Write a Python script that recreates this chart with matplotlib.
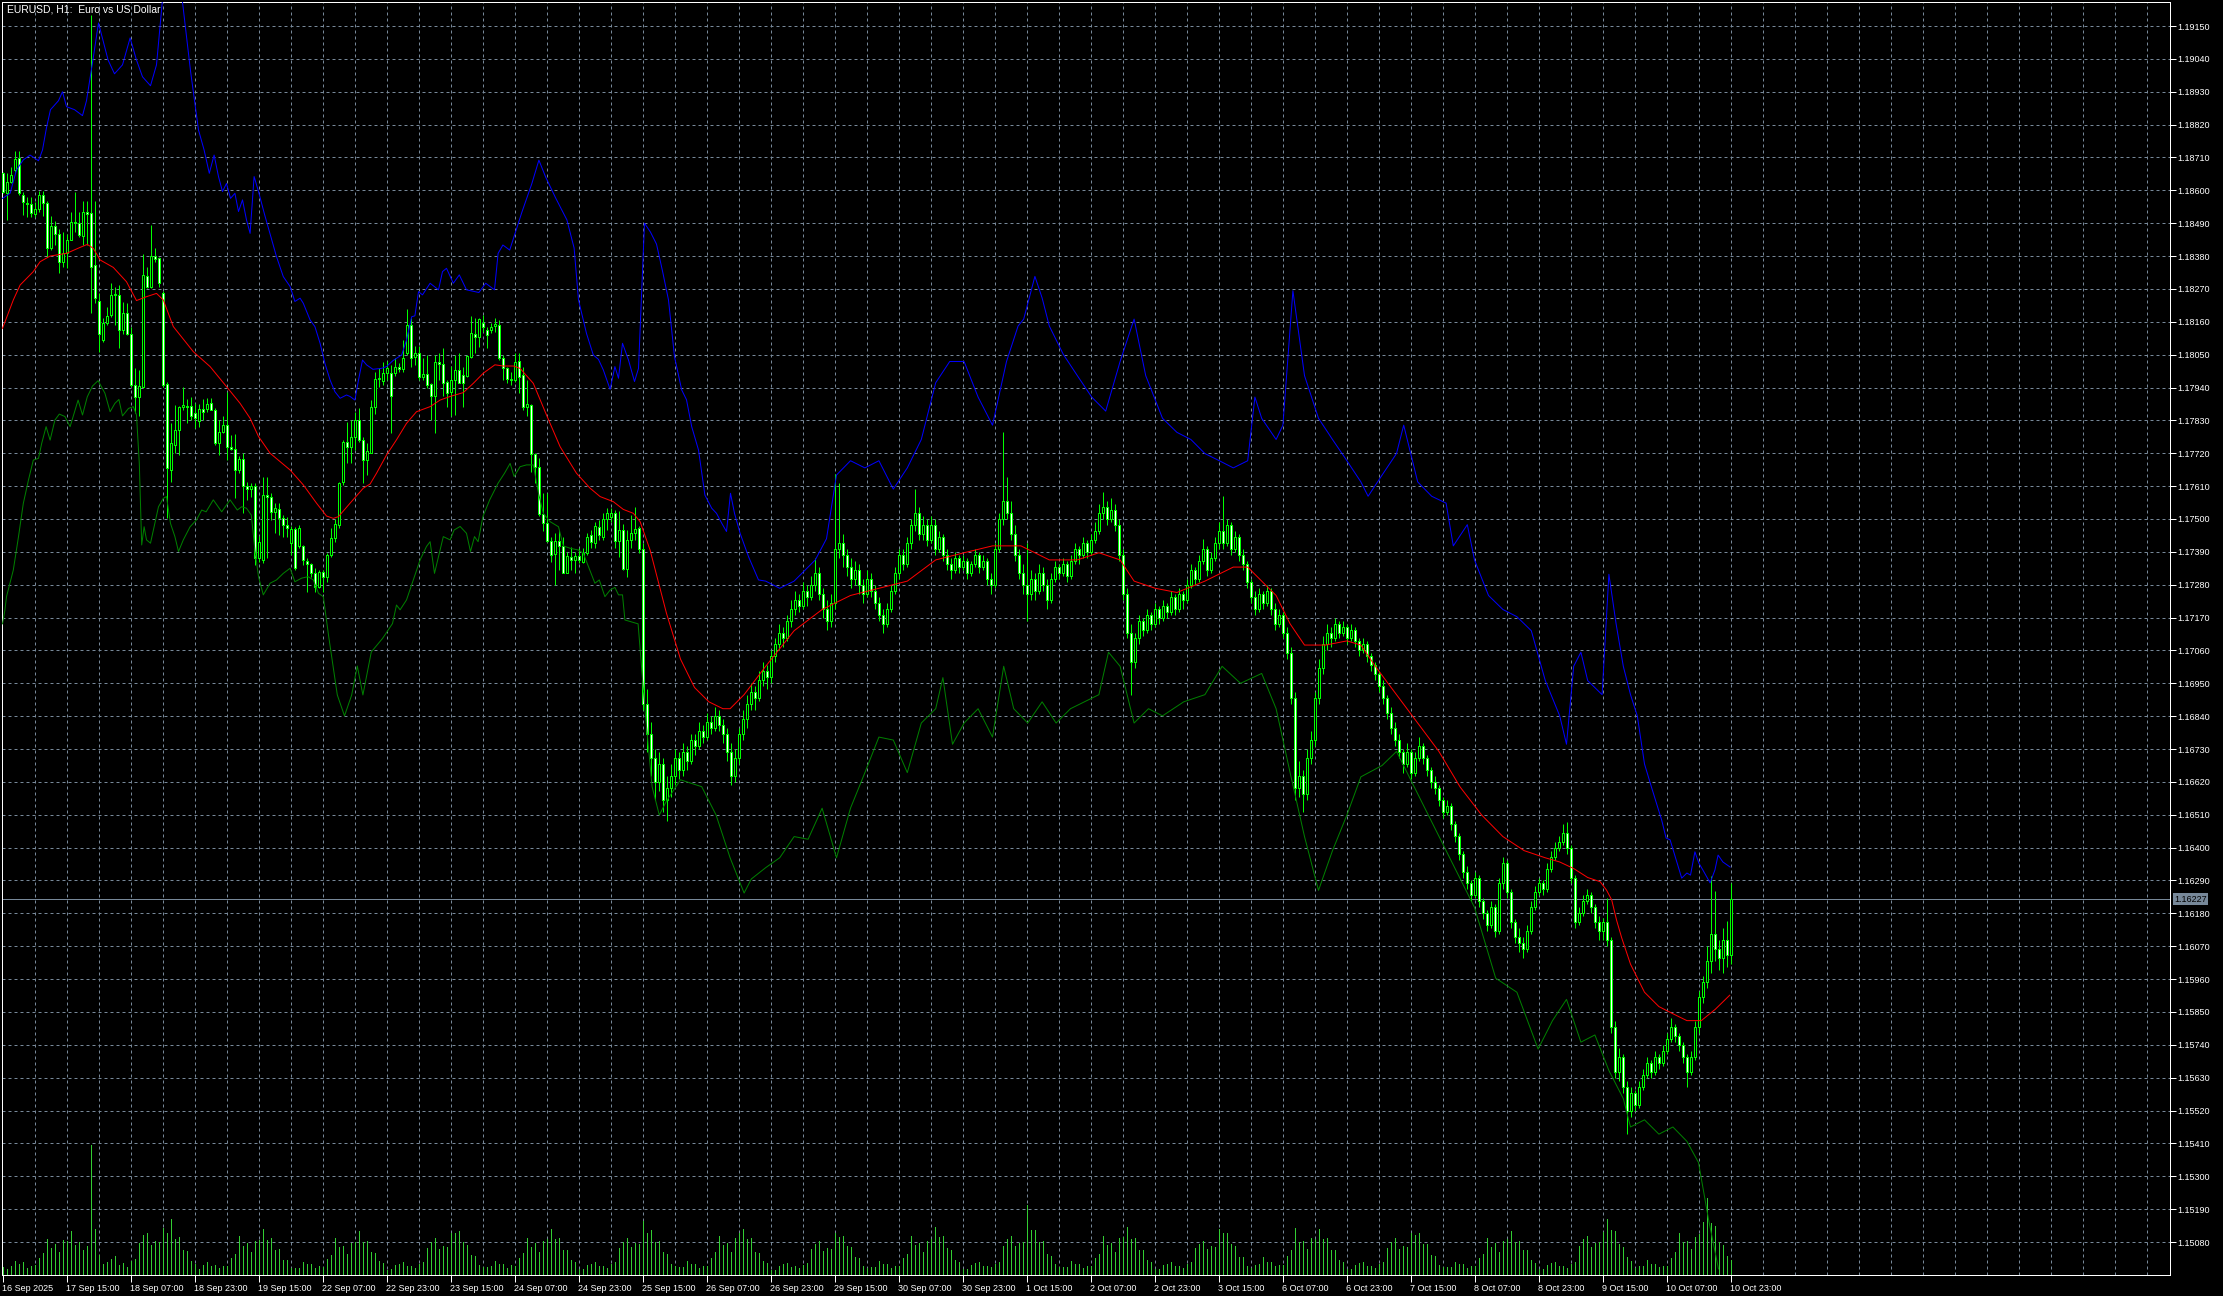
import matplotlib
matplotlib.use("Agg")
import matplotlib.pyplot as plt
from matplotlib.patches import Rectangle
from matplotlib.collections import PatchCollection, LineCollection

# ---------------- data (EURUSD H1, bar 0 = 16 Sep 2025 23:00) ----------------
opens = [1.18657,1.18590,1.18629,1.18668,1.18707,1.18584,1.18559,1.18554,1.18521,1.18537,
 1.18583,1.18557,1.18406,1.18482,1.18453,1.18359,1.18391,1.18434,1.18495,1.18492,
 1.18447,1.18526,1.18523,1.18350,1.18231,1.18099,1.18155,1.18183,1.18250,1.18250,
 1.18133,1.18191,1.18119,1.17949,1.17909,1.17943,1.18313,1.18278,1.18380,1.18372,
 1.18255,1.17952,1.17664,1.17748,1.17798,1.17874,1.17878,1.17878,1.17854,1.17829,
 1.17867,1.17867,1.17887,1.17865,1.17753,1.17792,1.17815,1.17740,1.17733,1.17664,
 1.17700,1.17610,1.17599,1.17610,1.17368,
 1.17363,1.17581,1.17573,1.17525,1.17533,1.17502,1.17480,1.17419,1.17466,1.17408,
 1.17410,1.17361,1.17350,1.17320,1.17274,1.17324,1.17307,1.17380,1.17435,1.17480,
 1.17625,1.17759,1.17742,1.17776,1.17832,1.17765,1.17698,1.17722,1.17876,1.17968,
 1.17963,1.17988,1.17988,1.17988,1.18010,1.18001,1.18055,1.18149,1.18041,1.18055,
 1.17974,1.17985,1.17952,1.17910,1.18027,1.18019,1.17960,1.17926,1.17965,1.17999,
 1.17982,1.17979,1.18043,1.18118,1.18110,1.18155,1.18131,1.18133,1.18146,1.18149,
 1.18038,1.18004,
 1.17965,1.17965,1.18030,1.17982,1.17874,1.17882,1.17718,1.17675,1.17517,1.17488,
 1.17427,1.17383,1.17427,1.17410,1.17320,1.17374,1.17363,1.17376,1.17357,1.17385,
 1.17446,1.17421,1.17474,1.17441,1.17499,1.17508,1.17521,1.17427,1.17463,1.17332,
 1.17430,1.17452,1.17469,
 1.17398,1.16880,1.16780,1.16700,1.16620,1.16680,1.16560,1.16600,1.16640,1.16700,
 1.16660,1.16720,1.16690,1.16760,1.16740,1.16790,1.16770,1.16820,1.16800,1.16840,
 1.16810,1.16780,1.16720,1.16640,1.16700,1.16780,1.16830,1.16880,1.16920,1.16900,
 1.16960,1.16990,1.16970,1.17040,1.17080,1.17120,1.17100,1.17160,1.17200,1.17230,
 1.17210,1.17260,1.17240,1.17280,1.17320,1.17250,1.17200,1.17160,1.17220,1.17400,
 1.17420,1.17380,1.17340,1.17300,1.17330,1.17280,1.17250,1.17300,1.17260,1.17220,
 1.17180,1.17150,1.17200,1.17260,1.17320,1.17380,1.17350,1.17420,1.17480,1.17520,
 1.17450,1.17480,1.17430,1.17480,1.17400,1.17440,1.17380,1.17350,1.17330,1.17370,
 1.17340,1.17360,1.17320,1.17350,1.17380,1.17340,1.17360,1.17300,1.17280,1.17400,
 1.17500,1.17560,1.17520,1.17450,1.17380,1.17320,1.17280,1.17250,1.17300,1.17260,
 1.17320,1.17280,1.17230,1.17300,1.17340,1.17320,1.17350,1.17310,1.17360,1.17400,
 1.17380,1.17420,1.17390,1.17430,1.17460,1.17520,1.17540,1.17500,1.17530,1.17480,
 1.17380,1.17250,1.17120,1.17020,1.17100,1.17160,1.17130,1.17180,1.17150,1.17200,
 1.17170,1.17210,1.17190,1.17240,1.17200,1.17250,1.17230,1.17280,1.17330,1.17300,
 1.17360,1.17400,1.17330,1.17370,1.17420,1.17460,1.17420,1.17480,1.17400,1.17440,
 1.17380,1.17350,1.17290,1.17240,1.17200,1.17250,1.17220,1.17260,1.17200,1.17150,
 1.17180,1.17120,1.17050,1.16900,1.16600,1.16640,1.16580,1.16700,1.16760,1.16900,
 1.17000,1.17080,1.17120,1.17100,1.17150,1.17120,1.17140,1.17100,1.17130,1.17090,
 1.17060,1.17080,1.17040,1.17010,1.16980,1.16940,1.16900,1.16850,1.16800,1.16760,
 1.16720,1.16680,1.16720,1.16650,1.16700,1.16740,1.16700,1.16660,1.16620,1.16600,
 1.16560,1.16520,1.16540,1.16480,1.16440,1.16380,1.16320,1.16280,1.16240,1.16300,
 1.16220,1.16180,1.16140,1.16200,1.16120,1.16280,1.16350,1.16250,1.16150,1.16100,
 1.16080,1.16060,1.16120,1.16200,1.16250,1.16280,1.16260,1.16330,1.16370,1.16400,
 1.16420,1.16450,1.16400,1.16300,1.16150,1.16180,1.16220,1.16240,1.16200,1.16150,
 1.16120,1.16152,1.16091,1.15800,1.15650,1.15700,1.15600,1.15520,1.15580,1.15540,
 1.15600,1.15640,1.15680,1.15650,1.15700,1.15680,1.15720,1.15760,1.15800,1.15770,
 1.15740,1.15700,1.15650,1.15700,1.15800,1.15900,1.15950,1.16020,1.16110,1.16060,
 1.16030,1.16090,1.16040]
highs = [1.18663,1.18657,1.18679,1.18733,1.18733,1.18596,1.18579,1.18579,1.18562,1.18599,
 1.18599,1.18565,1.18514,1.18499,1.18470,1.18462,1.18454,1.18529,1.18596,1.18529,
 1.18565,1.18565,1.19187,1.18565,1.18255,1.18172,1.18211,1.18289,1.18278,1.18283,
 1.18227,1.18222,1.18144,1.18004,1.17999,1.18387,1.18345,1.18484,1.18406,1.18376,
 1.18264,1.17960,1.17820,1.17882,1.17878,1.17941,1.17900,1.17909,1.17887,1.17885,
 1.17900,1.17904,1.17904,1.17870,1.17831,1.17843,1.17926,1.17781,1.17784,1.17711,
 1.17720,1.17625,1.17619,1.17619,1.17443,
 1.17642,1.17640,1.17586,1.17553,1.17553,1.17514,1.17508,1.17475,1.17472,1.17480,
 1.17413,1.17369,1.17354,1.17335,1.17329,1.17329,1.17385,1.17469,1.17499,1.17625,
 1.17765,1.17826,1.17832,1.17859,1.17871,1.17776,1.17753,1.17898,1.17993,1.18004,
 1.18027,1.18030,1.18016,1.18038,1.18023,1.18099,1.18202,1.18172,1.18079,1.18079,
 1.18038,1.18049,1.17954,1.18049,1.18057,1.18071,1.17965,1.18012,1.18049,1.18055,
 1.18010,1.18049,1.18180,1.18172,1.18172,1.18183,1.18142,1.18155,1.18172,1.18166,
 1.18049,1.18010,
 1.17993,1.18054,1.18054,1.18010,1.17965,1.17885,1.17720,1.17703,1.17586,1.17586,
 1.17439,1.17452,1.17463,1.17441,1.17391,1.17407,1.17391,1.17402,1.17402,1.17452,
 1.17463,1.17491,1.17497,1.17519,1.17536,1.17536,1.17530,1.17528,1.17483,1.17463,
 1.17513,1.17541,1.17477,
 1.17420,1.16930,1.16820,1.16730,1.16720,1.16700,1.16640,1.16680,1.16730,1.16720,
 1.16750,1.16740,1.16780,1.16780,1.16820,1.16810,1.16850,1.16840,1.16870,1.16860,
 1.16830,1.16800,1.16750,1.16730,1.16800,1.16860,1.16910,1.16950,1.16940,1.16990,
 1.17020,1.17010,1.17060,1.17100,1.17150,1.17140,1.17180,1.17230,1.17260,1.17250,
 1.17290,1.17280,1.17310,1.17370,1.17340,1.17270,1.17230,1.17250,1.17650,1.17620,
 1.17450,1.17400,1.17370,1.17360,1.17350,1.17300,1.17330,1.17320,1.17280,1.17240,
 1.17200,1.17220,1.17280,1.17340,1.17400,1.17400,1.17440,1.17500,1.17600,1.17540,
 1.17510,1.17500,1.17510,1.17500,1.17460,1.17450,1.17400,1.17370,1.17390,1.17380,
 1.17380,1.17370,1.17360,1.17400,1.17390,1.17380,1.17370,1.17320,1.17420,1.17520,
 1.17790,1.17640,1.17560,1.17480,1.17400,1.17350,1.17420,1.17330,1.17320,1.17350,
 1.17340,1.17300,1.17320,1.17360,1.17350,1.17370,1.17360,1.17380,1.17420,1.17410,
 1.17440,1.17430,1.17450,1.17490,1.17550,1.17590,1.17560,1.17570,1.17550,1.17500,
 1.17400,1.17270,1.17150,1.17120,1.17180,1.17170,1.17200,1.17190,1.17220,1.17210,
 1.17230,1.17220,1.17260,1.17250,1.17270,1.17260,1.17300,1.17350,1.17340,1.17380,
 1.17434,1.17410,1.17390,1.17440,1.17490,1.17576,1.17500,1.17490,1.17460,1.17450,
 1.17400,1.17360,1.17300,1.17260,1.17270,1.17260,1.17280,1.17270,1.17220,1.17200,
 1.17190,1.17140,1.17070,1.16920,1.16690,1.16660,1.16730,1.16790,1.16920,1.17030,
 1.17110,1.17150,1.17140,1.17170,1.17160,1.17160,1.17150,1.17150,1.17140,1.17100,
 1.17100,1.17090,1.17050,1.17020,1.16990,1.16960,1.16910,1.16870,1.16820,1.16780,
 1.16730,1.16750,1.16730,1.16720,1.16770,1.16750,1.16710,1.16670,1.16640,1.16610,
 1.16570,1.16560,1.16550,1.16490,1.16450,1.16390,1.16340,1.16290,1.16320,1.16310,
 1.16230,1.16190,1.16220,1.16210,1.16300,1.16370,1.16360,1.16260,1.16160,1.16130,
 1.16100,1.16140,1.16220,1.16270,1.16300,1.16290,1.16350,1.16390,1.16420,1.16440,
 1.16480,1.16485,1.16410,1.16310,1.16200,1.16240,1.16260,1.16250,1.16210,1.16170,
 1.16164,1.16230,1.16100,1.15820,1.15730,1.15710,1.15620,1.15600,1.15590,1.15620,
 1.15660,1.15700,1.15690,1.15720,1.15710,1.15740,1.15780,1.15830,1.15810,1.15780,
 1.15750,1.15710,1.15720,1.15820,1.15920,1.15970,1.16070,1.16305,1.16255,1.16090,
 1.16130,1.16155,1.16282]
lows = [1.18590,1.18501,1.18623,1.18663,1.18584,1.18517,1.18510,1.18510,1.18510,1.18529,
 1.18514,1.18378,1.18400,1.18417,1.18324,1.18345,1.18339,1.18434,1.18462,1.18445,
 1.18417,1.18417,1.18188,1.18222,1.18060,1.18093,1.18149,1.18177,1.18149,1.18071,
 1.18119,1.18116,1.17943,1.17854,1.17843,1.17937,1.18272,1.18272,1.18361,1.18278,
 1.17943,1.17502,1.17625,1.17720,1.17714,1.17865,1.17820,1.17831,1.17803,1.17809,
 1.17831,1.17859,1.17865,1.17748,1.17714,1.17787,1.17697,1.17731,1.17569,1.17653,
 1.17519,1.17564,1.17575,1.17346,1.17357,
 1.17352,1.17369,1.17497,1.17452,1.17447,1.17441,1.17441,1.17380,1.17329,1.17402,
 1.17346,1.17257,1.17307,1.17257,1.17268,1.17257,1.17290,1.17374,1.17424,1.17469,
 1.17614,1.17686,1.17689,1.17731,1.17759,1.17622,1.17647,1.17720,1.17852,1.17943,
 1.17949,1.17965,1.17787,1.17977,1.17993,1.17993,1.18049,1.18010,1.18016,1.17965,
 1.17965,1.17937,1.17832,1.17789,1.17965,1.17910,1.17876,1.17843,1.17848,1.17954,
 1.17876,1.17974,1.18038,1.18055,1.18077,1.18127,1.18071,1.18124,1.18127,1.18032,
 1.17965,1.17956,
 1.17948,1.17960,1.17921,1.17865,1.17843,1.17658,1.17619,1.17510,1.17461,1.17424,
 1.17357,1.17279,1.17329,1.17318,1.17318,1.17329,1.17318,1.17352,1.17352,1.17380,
 1.17402,1.17402,1.17430,1.17430,1.17463,1.17491,1.17402,1.17374,1.17329,1.17307,
 1.17402,1.17430,1.17385,
 1.16860,1.16720,1.16640,1.16560,1.16590,1.16520,1.16490,1.16570,1.16610,1.16630,
 1.16640,1.16660,1.16680,1.16710,1.16730,1.16750,1.16760,1.16780,1.16790,1.16790,
 1.16750,1.16690,1.16610,1.16620,1.16680,1.16760,1.16800,1.16860,1.16860,1.16890,
 1.16940,1.16930,1.16950,1.17020,1.17060,1.17070,1.17090,1.17140,1.17180,1.17190,
 1.17200,1.17210,1.17230,1.17260,1.17230,1.17170,1.17130,1.17140,1.17200,1.17370,
 1.17340,1.17310,1.17270,1.17280,1.17250,1.17220,1.17240,1.17240,1.17200,1.17160,
 1.17120,1.17140,1.17190,1.17250,1.17300,1.17330,1.17340,1.17400,1.17460,1.17430,
 1.17430,1.17410,1.17420,1.17380,1.17390,1.17360,1.17330,1.17300,1.17320,1.17320,
 1.17330,1.17300,1.17310,1.17340,1.17320,1.17330,1.17280,1.17250,1.17270,1.17390,
 1.17480,1.17500,1.17430,1.17360,1.17300,1.17250,1.17160,1.17230,1.17230,1.17250,
 1.17260,1.17200,1.17220,1.17290,1.17300,1.17310,1.17290,1.17300,1.17350,1.17350,
 1.17370,1.17370,1.17380,1.17420,1.17450,1.17500,1.17480,1.17490,1.17460,1.17360,
 1.17230,1.17100,1.16910,1.17000,1.17080,1.17110,1.17120,1.17130,1.17140,1.17150,
 1.17160,1.17170,1.17180,1.17180,1.17190,1.17200,1.17220,1.17270,1.17280,1.17290,
 1.17350,1.17310,1.17320,1.17360,1.17400,1.17400,1.17410,1.17380,1.17390,1.17360,
 1.17330,1.17270,1.17220,1.17180,1.17190,1.17200,1.17210,1.17180,1.17130,1.17140,
 1.17100,1.17030,1.16880,1.16560,1.16570,1.16520,1.16560,1.16680,1.16740,1.16880,
 1.16980,1.17060,1.17070,1.17090,1.17100,1.17110,1.17080,1.17090,1.17070,1.17040,
 1.17050,1.17020,1.16990,1.16960,1.16920,1.16880,1.16830,1.16780,1.16740,1.16700,
 1.16650,1.16670,1.16630,1.16640,1.16690,1.16680,1.16640,1.16600,1.16580,1.16540,
 1.16500,1.16510,1.16460,1.16420,1.16360,1.16300,1.16260,1.16220,1.16230,1.16200,
 1.16160,1.16120,1.16130,1.16100,1.16110,1.16260,1.16230,1.16130,1.16080,1.16050,
 1.16030,1.16050,1.16110,1.16190,1.16240,1.16240,1.16250,1.16320,1.16360,1.16390,
 1.16410,1.16380,1.16280,1.16130,1.16140,1.16170,1.16210,1.16180,1.16130,1.16090,
 1.16090,1.16070,1.15780,1.15630,1.15620,1.15580,1.15441,1.15500,1.15520,1.15530,
 1.15590,1.15630,1.15630,1.15640,1.15660,1.15670,1.15710,1.15750,1.15750,1.15720,
 1.15680,1.15600,1.15640,1.15690,1.15780,1.15880,1.15930,1.15980,1.16020,1.15990,
 1.15980,1.16000,1.16010]
closes = [1.18596,1.18629,1.18651,1.18704,1.18590,1.18562,1.18554,1.18523,1.18537,1.18583,
 1.18559,1.18406,1.18482,1.18454,1.18359,1.18391,1.18434,1.18495,1.18492,1.18451,
 1.18526,1.18520,1.18345,1.18239,1.18119,1.18155,1.18179,1.18250,1.18253,1.18133,
 1.18191,1.18119,1.17949,1.17909,1.17945,1.18317,1.18278,1.18380,1.18369,1.18289,
 1.17949,1.17670,1.17753,1.17798,1.17874,1.17882,1.17874,1.17845,1.17837,1.17867,
 1.17859,1.17885,1.17865,1.17755,1.17792,1.17815,1.17742,1.17733,1.17664,1.17700,
 1.17610,1.17599,1.17610,1.17368,1.17424,
 1.17581,1.17575,1.17525,1.17536,1.17502,1.17480,1.17469,1.17466,1.17335,1.17469,
 1.17363,1.17350,1.17320,1.17274,1.17324,1.17307,1.17380,1.17435,1.17483,1.17622,
 1.17759,1.17742,1.17776,1.17832,1.17765,1.17698,1.17726,1.17876,1.17968,1.17971,
 1.17988,1.18004,1.17912,1.18010,1.18001,1.18038,1.18149,1.18038,1.18055,1.17974,
 1.17985,1.17949,1.17910,1.18027,1.18019,1.17956,1.17921,1.17965,1.17999,1.17956,
 1.17954,1.18046,1.18122,1.18110,1.18168,1.18142,1.18116,1.18142,1.18153,1.18038,
 1.18004,1.17968,
 1.17967,1.18027,1.17976,1.17874,1.17885,1.17718,1.17675,1.17517,1.17488,1.17427,
 1.17380,1.17427,1.17410,1.17320,1.17376,1.17363,1.17376,1.17363,1.17387,1.17441,
 1.17424,1.17477,1.17446,1.17499,1.17519,1.17521,1.17427,1.17463,1.17332,1.17430,
 1.17452,1.17465,1.17398,
 1.16880,1.16780,1.16700,1.16620,1.16680,1.16560,1.16600,1.16640,1.16700,1.16660,
 1.16720,1.16690,1.16760,1.16740,1.16790,1.16770,1.16820,1.16800,1.16840,1.16810,
 1.16780,1.16720,1.16640,1.16700,1.16780,1.16830,1.16880,1.16920,1.16900,1.16960,
 1.16990,1.16970,1.17040,1.17080,1.17120,1.17100,1.17160,1.17200,1.17230,1.17210,
 1.17260,1.17240,1.17280,1.17320,1.17250,1.17200,1.17160,1.17220,1.17400,1.17420,
 1.17380,1.17340,1.17300,1.17330,1.17280,1.17250,1.17300,1.17260,1.17220,1.17180,
 1.17150,1.17200,1.17260,1.17320,1.17380,1.17350,1.17420,1.17480,1.17520,1.17450,
 1.17480,1.17430,1.17480,1.17400,1.17440,1.17380,1.17350,1.17330,1.17370,1.17340,
 1.17360,1.17320,1.17350,1.17380,1.17340,1.17360,1.17300,1.17280,1.17400,1.17500,
 1.17560,1.17520,1.17450,1.17380,1.17320,1.17280,1.17250,1.17300,1.17260,1.17320,
 1.17280,1.17230,1.17300,1.17340,1.17320,1.17350,1.17310,1.17360,1.17400,1.17380,
 1.17420,1.17390,1.17430,1.17460,1.17520,1.17540,1.17500,1.17530,1.17480,1.17380,
 1.17250,1.17120,1.17020,1.17100,1.17160,1.17130,1.17180,1.17150,1.17200,1.17170,
 1.17210,1.17190,1.17240,1.17200,1.17250,1.17230,1.17280,1.17330,1.17300,1.17360,
 1.17400,1.17330,1.17370,1.17420,1.17460,1.17420,1.17480,1.17400,1.17440,1.17380,
 1.17350,1.17290,1.17240,1.17200,1.17250,1.17220,1.17260,1.17200,1.17150,1.17180,
 1.17120,1.17050,1.16900,1.16600,1.16640,1.16580,1.16700,1.16760,1.16900,1.17000,
 1.17080,1.17120,1.17100,1.17150,1.17120,1.17140,1.17100,1.17130,1.17090,1.17060,
 1.17080,1.17040,1.17010,1.16980,1.16940,1.16900,1.16850,1.16800,1.16760,1.16720,
 1.16680,1.16720,1.16650,1.16700,1.16740,1.16700,1.16660,1.16620,1.16600,1.16560,
 1.16520,1.16540,1.16480,1.16440,1.16380,1.16320,1.16280,1.16240,1.16300,1.16220,
 1.16180,1.16140,1.16200,1.16120,1.16280,1.16350,1.16250,1.16150,1.16100,1.16080,
 1.16060,1.16120,1.16200,1.16250,1.16280,1.16260,1.16330,1.16370,1.16400,1.16420,
 1.16450,1.16400,1.16300,1.16150,1.16180,1.16220,1.16240,1.16200,1.16150,1.16120,
 1.16152,1.16091,1.15800,1.15650,1.15700,1.15600,1.15520,1.15580,1.15540,1.15600,
 1.15640,1.15680,1.15650,1.15700,1.15680,1.15720,1.15760,1.15800,1.15770,1.15740,
 1.15700,1.15650,1.15700,1.15800,1.15900,1.15950,1.16020,1.16110,1.16060,1.16030,
 1.16090,1.16040,1.16227]

tick_volume = [800,
 600,900,1400,1100,1300,700,900,1000,1700,2200,3600,2700,3100,2300,3500,3400,4400,3000,3300,2500,2900,13000,4600,2000,
 1100,1300,1600,1900,1000,1200,800,1400,1600,3200,4000,4200,3000,3400,3300,4700,4200,5600,3600,3800,2500,2400,1400,1100,
 600,1000,1300,900,1000,700,900,900,1700,2100,3900,2900,3200,2300,3400,3500,4600,3500,3700,2500,2600,1500,1500,700,
 700,700,1300,1100,1100,700,900,800,1600,2000,3700,2800,2900,2100,3200,3300,4400,3300,3400,2300,2200,1400,1200,500,
 600,1000,1100,1300,900,900,700,1100,1300,2700,3300,3700,2600,2900,2800,4200,4200,4400,3300,3000,2000,1900,1000,800,
 800,900,1400,1100,1100,700,1000,900,1700,2200,3700,2800,3200,2300,3400,3600,4600,3600,3700,2500,2500,1500,1300,600,
 600,1000,1100,1300,900,900,700,1100,1300,2700,3300,3700,2800,3200,3100,5400,4200,4500,3300,3400,2300,2100,1100,900,
 800,800,1400,1100,1100,700,900,900,1700,2300,3900,3000,3200,2300,3700,4200,4600,3600,3700,2300,2200,1400,1200,500,
 500,900,1100,1200,800,900,700,1000,1200,2600,3100,3400,2400,2700,2600,4200,3800,3900,2900,2800,1800,1700,900,700,
 800,800,1400,1100,1100,700,900,900,1700,2100,3900,3000,3200,2300,3400,3600,4800,3800,3900,2700,2500,1500,1300,600,
 600,1000,1200,1300,900,900,800,1100,1300,2900,3600,3900,2900,3200,3300,7000,4500,4500,3300,3400,2100,1900,1100,800,
 800,800,1400,1100,1100,700,900,900,1700,2100,3900,3000,3200,2300,3700,3800,4800,3600,3700,2500,2500,1500,1300,600,
 600,1000,1100,1300,900,900,700,1100,1300,2700,3100,3400,2600,2900,2800,4600,4200,4200,3100,2900,1800,1800,900,700,
 1000,1100,1800,1300,1300,900,1000,1000,1900,2500,4700,3300,3400,2600,3700,3600,4600,3600,3700,2500,2500,1500,1300,600,
 600,1000,1200,1300,900,900,700,1100,1300,2700,3300,3700,2600,2900,2800,4200,4000,4200,3100,3100,2000,1900,1000,800,
 800,800,1300,1100,1100,700,900,900,1700,2100,3700,2800,3200,2300,3400,3600,4400,3300,3400,2500,2500,1500,1200,600,
 600,1000,1200,1300,900,900,700,1100,1300,2900,3600,3900,2800,3200,3300,4300,5600,4500,4400,3100,2800,1800,1400,700,
 900,900,1500,1100,1100,800,900,900,1700,2300,4200,3300,3400,2600,3800,4100,5300,7700,5200,4900,3300,3000,1900,1500]

ma_bar = [0,2.7,4.4,7.7,9.4,11.9,16,19.4,21.2,22.7,24.4,27.7,31,33.5,36,38.5,40.2,42.7,47.7,51.9,
 56,59.4,61.9,64,66.9,71.9,75.2,78.5,81,82.7,84,86.9,90.2,91.9,93.5,96,98.5,101,103.5,106.9,
 109.4,111.9,115.2,117.7,120.2,123.1,125.2,127.7,129.4,132.7,136,139.4,143.5,146.9,149.4,
 152.7,155.2,157.7,159.4,161.9,166,169.5,173,176.6,180.1,181.9,185.4,190.8,197.9,204.9,
 212,219.1,226.2,233.3,240.4,247.5,254.6,261.7,268.7,274.1,279.4,282.9,288.2,293.6,300.6,
 307.7,311.3,314.8,318.4,321.9,325.5,330.8,336.1,339.6,343.2,348.5,353.8,359.1,364.4,369.8,
 375.1,380.4,385.7,389.3,392.8,396.3,399.4,401,402.3,403.5,404.8,407,410.5,414.1,417.6,
 421.1,424.7,428.2,431.8]
ma_val = [1.18138,1.18233,1.18283,1.18328,1.18361,1.18380,1.18389,1.18409,1.18419,1.18406,
 1.18367,1.18342,1.18294,1.18231,1.18244,1.18255,1.18233,1.18144,1.18060,1.18010,
 1.17943,1.17887,1.17837,1.17776,1.17720,1.17664,1.17614,1.17553,1.17510,1.17502,
 1.17508,1.17553,1.17603,1.17617,1.17653,1.17714,1.17765,1.17820,1.17859,1.17876,
 1.17898,1.17910,1.17923,1.17954,1.17988,1.18016,1.18012,1.18012,1.18004,1.17954,
 1.17848,1.17742,1.17653,1.17603,1.17575,1.17558,1.17532,1.17519,1.17491,1.17396,1.17184,
 1.17031,1.16936,1.16888,1.16865,1.16865,1.16912,1.17007,1.17126,1.17197,1.17244,1.17268,
 1.17292,1.17363,1.17387,1.17410,1.17410,1.17363,1.17363,1.17387,1.17363,1.17292,1.17268,
 1.17254,1.17292,1.17339,1.17339,1.17292,1.17244,1.17149,1.17078,1.17078,1.17092,1.17078,
 1.17007,1.16912,1.16817,1.16722,1.16603,1.16509,1.16437,1.16390,1.16366,1.16352,1.16330,
 1.16300,1.16286,1.16258,1.16225,1.16158,1.16098,1.16010,1.15916,1.15868,1.15844,1.15821,
 1.15821,1.15859,1.15906]

blue_bar = [0,1.9,3.5,5.2,6.9,9,10,11,12,14,15,16,18,20,21,22.6,24,26.4,28,30,31.9,33.5,35,37,
 38.5,40,42,44,45,47,49,50.4,51.7,52.9,54,55,56,57,58.1,59,60,61,61.9,62.9,64,65.5,67.3,68.5,
 70.2,71.9,73.1,74.4,75.2,76.9,78.1,79.4,80.6,81.9,83.1,84.4,86,86.9,88.1,89,90,91,92.6,94.7,
 96,97.6,99.8,101,102.3,103.1,104,105,106.9,109,110,111,112.7,114.2,116,119.1,120.8,123,
 123.9,125.1,126.8,129.8,132.3,134.1,135.8,138.3,141.1,142.9,144,146,147.7,149,150.2,151.9,
 153.1,154,155,156.5,158,159,160.5,162,163.5,165,166.5,168,169.8,171,172.3,174,175.6,177.3,
 178.5,179.8,181,182,183,184.4,186.5,189,190.8,194.3,197.9,203.2,206,208.5,212,215.6,219.1,
 222.7,226.2,229.7,233.3,236.8,240.4,243.9,247.5,251,253.9,255.3,258.1,259.9,261.7,265.2,
 268.7,272.3,275.8,279.4,282.9,285.8,290,293.6,297.1,300.6,304.2,307.7,311.3,313.1,314.8,
 318.4,320.1,322.6,325.5,329,332.5,336.1,339.6,341.4,344.9,348.5,350.3,353.8,357.3,360.9,
 362.7,366.2,368,371.5,375.1,378.6,382.2,385.7,389.3,391,392.8,394.6,396.3,399.9,401.6,
 403.4,405.2,407,408.7,410.5,412.3,414.8,415.9,416.9,419.8,421.1,422,423.1,424.1,425.1,
 426.9,428.1,428.9,430.1,431.9]
blue_val = [1.18573,1.18590,1.18668,1.18702,1.18718,1.18699,1.18735,1.18810,1.18870,1.18900,
 1.18930,1.18880,1.18870,1.18850,1.18900,1.19036,1.19160,1.19036,1.18990,1.19020,1.19110,
 1.19036,1.18980,1.18950,1.19020,1.19240,1.19300,1.19280,1.19230,1.19000,1.18802,1.18735,
 1.18657,1.18718,1.18646,1.18596,1.18623,1.18573,1.18590,1.18529,1.18568,1.18501,1.18456,
 1.18646,1.18596,1.18520,1.18434,1.18378,1.18311,1.18278,1.18228,1.18239,1.18222,1.18166,
 1.18144,1.18088,1.18021,1.17965,1.17926,1.17904,1.17915,1.17910,1.17898,1.17965,1.18032,
 1.18016,1.18001,1.18004,1.18010,1.18030,1.18049,1.18099,1.18177,1.18180,1.18261,1.18250,
 1.18289,1.18267,1.18328,1.18339,1.18289,1.18317,1.18267,1.18258,1.18289,1.18267,1.18389,
 1.18417,1.18400,1.18525,1.18621,1.18701,1.18644,1.18574,1.18501,1.18407,1.18233,1.18121,
 1.18049,1.18034,1.17999,1.17934,1.18010,1.17971,1.18088,1.18032,1.17960,1.18004,1.18490,
 1.18460,1.18420,1.18330,1.18233,1.18043,1.17932,1.17899,1.17809,1.17731,1.17580,1.17536,
 1.17519,1.17486,1.17458,1.17586,1.17519,1.17452,1.17374,1.17296,1.17292,1.17268,1.17292,
 1.17363,1.17434,1.17647,1.17695,1.17671,1.17695,1.17600,1.17671,1.17766,1.17956,1.18027,
 1.18027,1.17908,1.17814,1.18027,1.18146,1.18169,1.18312,1.18240,1.18146,1.18051,1.17980,
 1.17908,1.17861,1.18027,1.18169,1.17980,1.17837,1.17790,1.17766,1.17719,1.17695,1.17671,
 1.17695,1.17908,1.17837,1.17766,1.17814,1.18264,1.17980,1.17837,1.17766,1.17695,1.17624,
 1.17576,1.17647,1.17719,1.17814,1.17624,1.17576,1.17553,1.17410,1.17481,1.17363,1.17244,
 1.17197,1.17173,1.17126,1.16959,1.16841,1.16746,1.17007,1.17054,1.16959,1.16912,1.17315,
 1.17149,1.17007,1.16912,1.16841,1.16680,1.16600,1.16492,1.16432,1.16426,1.16298,1.16315,
 1.16308,1.16386,1.16348,1.16325,1.16282,1.16325,1.16375,1.16352,1.16335]

green_bar = [0,0.6,1,2.7,4,5.2,6.5,7.7,9,9.8,10.9,11.9,13.1,14.2,15.6,16.9,17.9,18.9,20,21.2,
 22.5,23.9,25.6,26.9,28.1,29.1,30,31.5,32.7,33.5,34.2,34.8,35.4,36,37,37.9,39,40.2,41,42,43.1,
 44,45.2,46.9,48.5,49.8,50.9,52.7,54.8,56.9,58.7,59.8,61,62.2,63.1,64,65.2,66.9,68.5,70.2,
 71.9,73.1,74.8,76.4,77.7,79,80.2,81,81.6,83.7,85.5,87.3,88.7,90.1,92.2,95,97.5,98.5,99.4,
 101,102.7,104.4,106,106.9,108,109,110.2,111.9,112.9,114.4,116,117,118,118.9,120.1,121.8,
 123.9,125.5,126.9,127.9,129.4,131,132.7,134,135.2,136.9,139,140.2,141.9,144,145.2,146.5,
 148.1,149.2,150.6,151.9,153.1,154,155,155.6,158.9,160.6,162.4,164.2,166,169.5,174.8,178.4,
 181.9,185.4,187.2,190.8,194.3,197.9,201.4,204.9,208.5,212,215.6,219.1,222.7,226.2,229.7,
 233.3,235.1,237.5,240.4,243.9,247.5,250.3,252.8,256.3,259.9,263.4,267,270.5,274.1,276.5,
 279.4,282.9,286.5,290,295.3,300.6,304.9,309.5,314.8,318.4,321.9,325.5,329,332.5,336.1,
 339.6,344.9,348.5,353.8,360.9,368,373.3,378.6,383.9,387.5,391,394.6,398.1,401.6,405.2,
 407,410.5,414.1,417.6,421.1,424,426.5,429]
green_val = [1.17149,1.17195,1.17240,1.17329,1.17441,1.17552,1.17631,1.17697,1.17703,1.17753,
 1.17809,1.17764,1.17831,1.17851,1.17843,1.17809,1.17854,1.17898,1.17848,1.17909,1.17945,
 1.17963,1.17921,1.17859,1.17887,1.17900,1.17845,1.17870,1.17876,1.17848,1.17686,1.17413,
 1.17474,1.17430,1.17419,1.17474,1.17541,1.17569,1.17575,1.17485,1.17441,1.17391,1.17430,
 1.17474,1.17497,1.17530,1.17524,1.17564,1.17524,1.17564,1.17530,1.17541,1.17536,1.17513,
 1.17396,1.17307,1.17246,1.17285,1.17296,1.17318,1.17335,1.17290,1.17302,1.17307,1.17296,
 1.17251,1.17240,1.17162,1.17102,1.16911,1.16841,1.16911,1.17008,1.16911,1.17055,1.17100,
 1.17150,1.17212,1.17196,1.17229,1.17296,1.17363,1.17408,1.17424,1.17318,1.17374,1.17441,
 1.17430,1.17463,1.17475,1.17452,1.17391,1.17441,1.17424,1.17508,1.17564,1.17620,1.17653,
 1.17686,1.17642,1.17675,1.17681,1.17681,1.17586,1.17519,1.17491,1.17474,1.17410,1.17402,
 1.17396,1.17385,1.17340,1.17285,1.17296,1.17240,1.17262,1.17271,1.17246,1.17246,1.17162,
 1.17149,1.16865,1.16604,1.16509,1.16556,1.16627,1.16604,1.16509,1.16366,1.16248,1.16295,
 1.16333,1.16366,1.16437,1.16428,1.16532,1.16366,1.16532,1.16651,1.16770,1.16760,1.16651,
 1.16817,1.16865,1.16969,1.16746,1.16817,1.16865,1.16770,1.17007,1.16865,1.16817,1.16888,
 1.16817,1.16865,1.16888,1.16912,1.17054,1.17007,1.16817,1.16865,1.16841,1.16888,1.16912,
 1.17007,1.16950,1.16983,1.16865,1.16651,1.16437,1.16257,1.16390,1.16509,1.16637,1.16675,
 1.16722,1.16580,1.16390,1.16200,1.15963,1.15916,1.15726,1.15821,1.15892,1.15749,1.15773,
 1.15654,1.15560,1.15465,1.15489,1.15441,1.15465,1.15417,1.15346,1.15156,1.14990]

price_ticks = [1.19150,1.19040,1.18930,1.18820,1.18710,1.18600,1.18490,1.18380,1.18270,1.18160,
 1.18050,1.17940,1.17830,1.17720,1.17610,1.17500,1.17390,1.17280,1.17170,1.17060,1.16950,
 1.16840,1.16730,1.16620,1.16510,1.16400,1.16290,1.16180,1.16070,1.15960,1.15850,1.15740,
 1.15630,1.15520,1.15410,1.15300,1.15190,1.15080]
time_labels = ["16 Sep 2025","17 Sep 15:00","18 Sep 07:00","18 Sep 23:00","19 Sep 15:00",
 "22 Sep 07:00","22 Sep 23:00","23 Sep 15:00","24 Sep 07:00","24 Sep 23:00","25 Sep 15:00",
 "26 Sep 07:00","26 Sep 23:00","29 Sep 15:00","30 Sep 07:00","30 Sep 23:00","1 Oct 15:00",
 "2 Oct 07:00","2 Oct 23:00","3 Oct 15:00","6 Oct 07:00","6 Oct 23:00","7 Oct 15:00",
 "8 Oct 07:00","8 Oct 23:00","9 Oct 15:00","10 Oct 07:00","10 Oct 23:00"]
bid_price = 1.16227
title = "EURUSD, H1:  Euro vs US Dollar"

# ---------------- layout ----------------
W, H = 2223, 1296
fig = plt.figure(figsize=(W / 100, H / 100), dpi=100, facecolor="black")
pl, pr, pt, pb = 2.3, 2170.3, 2.3, 1275.3
ax = fig.add_axes([pl / W, 1 - pb / H, (pr - pl) / W, (pb - pt) / H])
ax.set_facecolor("black")
bar_px = 4.0
x0_px = 2.5
ax.set_xlim((pl - x0_px) / bar_px, (pr - x0_px) / bar_px)
ppx = 3.347e-5
ymin = 1.19150 - (pb - 26) * ppx
ax.set_ylim(ymin, 1.19150 + (26 - pt) * ppx)

LW = 0.72
grid_c = "#778899"
for p in price_ticks:
    ax.axhline(p, color=grid_c, lw=LW, dashes=(3, 3), zorder=0)
for b in range(8, 542, 8):
    ax.axvline(b, color=grid_c, lw=LW, dashes=(3, 3), zorder=0)

# volumes (tallest bar about 130 px)
vscale = 130 * ppx / max(tick_volume)
ax.vlines(range(len(tick_volume)), ymin, [ymin + v * vscale for v in tick_volume],
          colors="#32CD32", lw=LW, zorder=1, antialiased=False)

# candles
lime = "#00FF00"
n = len(closes)
segs = [[(i, lows[i]), (i, highs[i])] for i in range(n)]
ax.add_collection(LineCollection(segs, colors=lime, linewidths=LW, zorder=3))
rects, fcs = [], []
for i in range(n):
    o, c = opens[i], closes[i]
    lo, hi = min(o, c), max(o, c)
    rects.append(Rectangle((i - 0.25, lo), 0.5, max(hi - lo, 1e-6)))
    fcs.append("white" if c < o else "black")
ax.add_collection(PatchCollection(rects, facecolors=fcs, edgecolors=lime,
                                  linewidths=LW, zorder=4))

ax.plot(green_bar, green_val, color="#008000", lw=LW, zorder=5)
ax.plot(ma_bar, ma_val, color="#FF0000", lw=LW, zorder=5)
ax.plot(blue_bar, blue_val, color="#0000FF", lw=LW, zorder=5)

ax.axhline(bid_price, color=grid_c, lw=LW, zorder=2)

# axes styling
for s in ax.spines.values():
    s.set_color("white")
    s.set_linewidth(LW)
ax.yaxis.tick_right()
ax.set_yticks(price_ticks)
ax.set_yticklabels([f"{p:.5f}" for p in price_ticks])
ax.tick_params(axis="y", colors="white", length=4, width=LW, pad=1,
               labelsize=6.5, labelcolor="white")
ax.set_xticks([16 * k for k in range(len(time_labels))])
ax.set_xticklabels(time_labels, ha="left")
ax.tick_params(axis="x", colors="white", length=5, width=LW, pad=1,
               labelsize=6.5, labelcolor="white")
for lab in ax.get_xticklabels() + ax.get_yticklabels():
    lab.set_fontfamily("Liberation Sans")

fig.text(2174 / W, 1 - 899 / H, f"{bid_price:.5f}", color="black", fontsize=6.5,
         family="Liberation Sans", va="center", ha="left",
         bbox=dict(boxstyle="square,pad=0.15", fc=grid_c, ec="none"))
fig.text(7 / W, 1 - 10 / H, title, color="white", fontsize=7.5,
         family="Liberation Sans", va="center", ha="left")

fig.savefig("out.png", dpi=100, facecolor="black")
